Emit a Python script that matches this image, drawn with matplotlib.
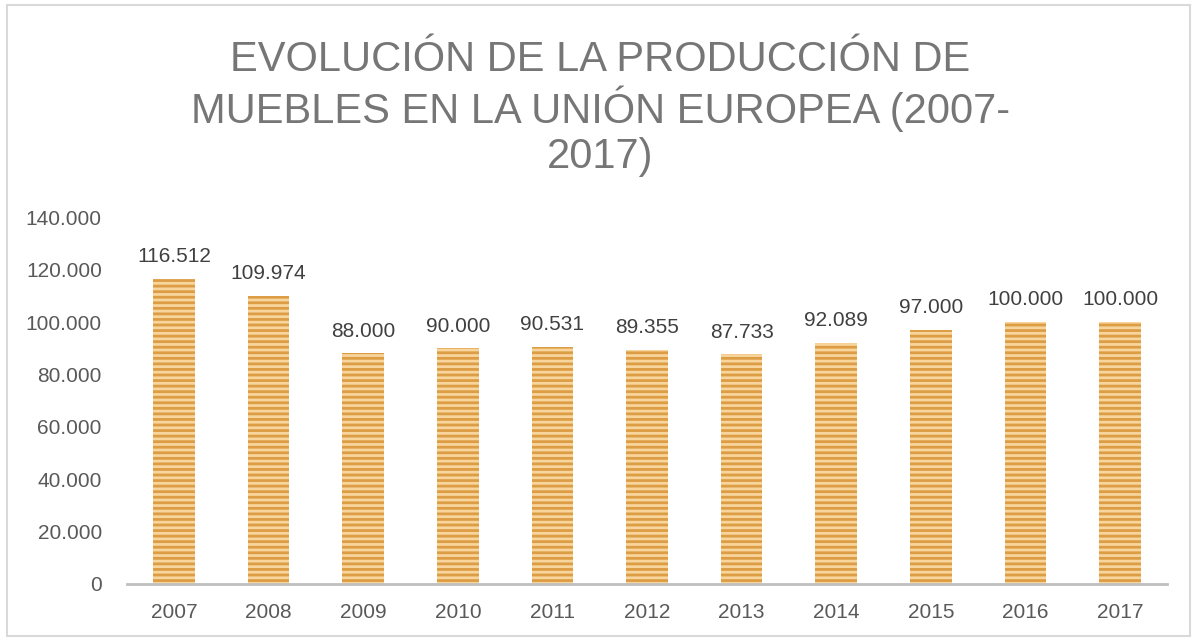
import matplotlib.pyplot as plt
from matplotlib.patches import Rectangle

years = ['2007', '2008', '2009', '2010', '2011', '2012', '2013', '2014', '2015', '2016', '2017']
production = [116512, 109974, 88000, 90000, 90531, 89355, 87733, 92089, 97000, 100000, 100000]
y_ticks = [0, 20000, 40000, 60000, 80000, 100000, 120000, 140000]


def fmt(v):
    return f'{v:,}'.replace(',', '.')


plt.rcParams['font.family'] = ['Liberation Sans', 'DejaVu Sans']
plt.rcParams['hatch.linewidth'] = 2.0

fig = plt.figure(figsize=(11.96, 6.41), dpi=100)
ax = fig.add_axes([0.106, 0.089, 0.870, 0.572])

x = range(len(years))
bars = ax.bar(x, production, width=0.44, color='#f7d59c', edgecolor='#dc9d45',
              linewidth=0, hatch='---')
for rect, v in zip(bars, production):
    ax.text(rect.get_x() + rect.get_width() / 2, v + 4800, fmt(v),
            ha='center', va='bottom', fontsize=15, color='#404040')

ax.set_xlim(-0.5, len(years) - 0.5)
ax.set_ylim(0, 140000)
ax.set_xticks(list(x))
ax.set_xticklabels(years)
ax.set_yticks(y_ticks)
ax.set_yticklabels([fmt(t) for t in y_ticks])
ax.tick_params(length=0, labelsize=15, colors='#595959')
ax.tick_params(axis='y', pad=18)
ax.tick_params(axis='x', pad=14)
for s in ['top', 'right', 'left']:
    ax.spines[s].set_visible(False)
ax.spines['bottom'].set_color('#bfbfbf')
ax.spines['bottom'].set_linewidth(2)

title_lines = ['EVOLUCIÓN DE LA PRODUCCIÓN DE', 'MUEBLES EN LA UNIÓN EUROPEA (2007-', '2017)']
for i, line in enumerate(title_lines):
    fig.text(0.502, 1 - (60 + 48.5 * i) / 641, line, ha='center', va='center',
             fontsize=30, color='#767676')

fig.patches.append(Rectangle((0.006, 0.008), 0.989, 0.984, transform=fig.transFigure,
                             fill=False, edgecolor='#d9d9d9', linewidth=1.5))

fig.savefig('out.png', dpi=100)
